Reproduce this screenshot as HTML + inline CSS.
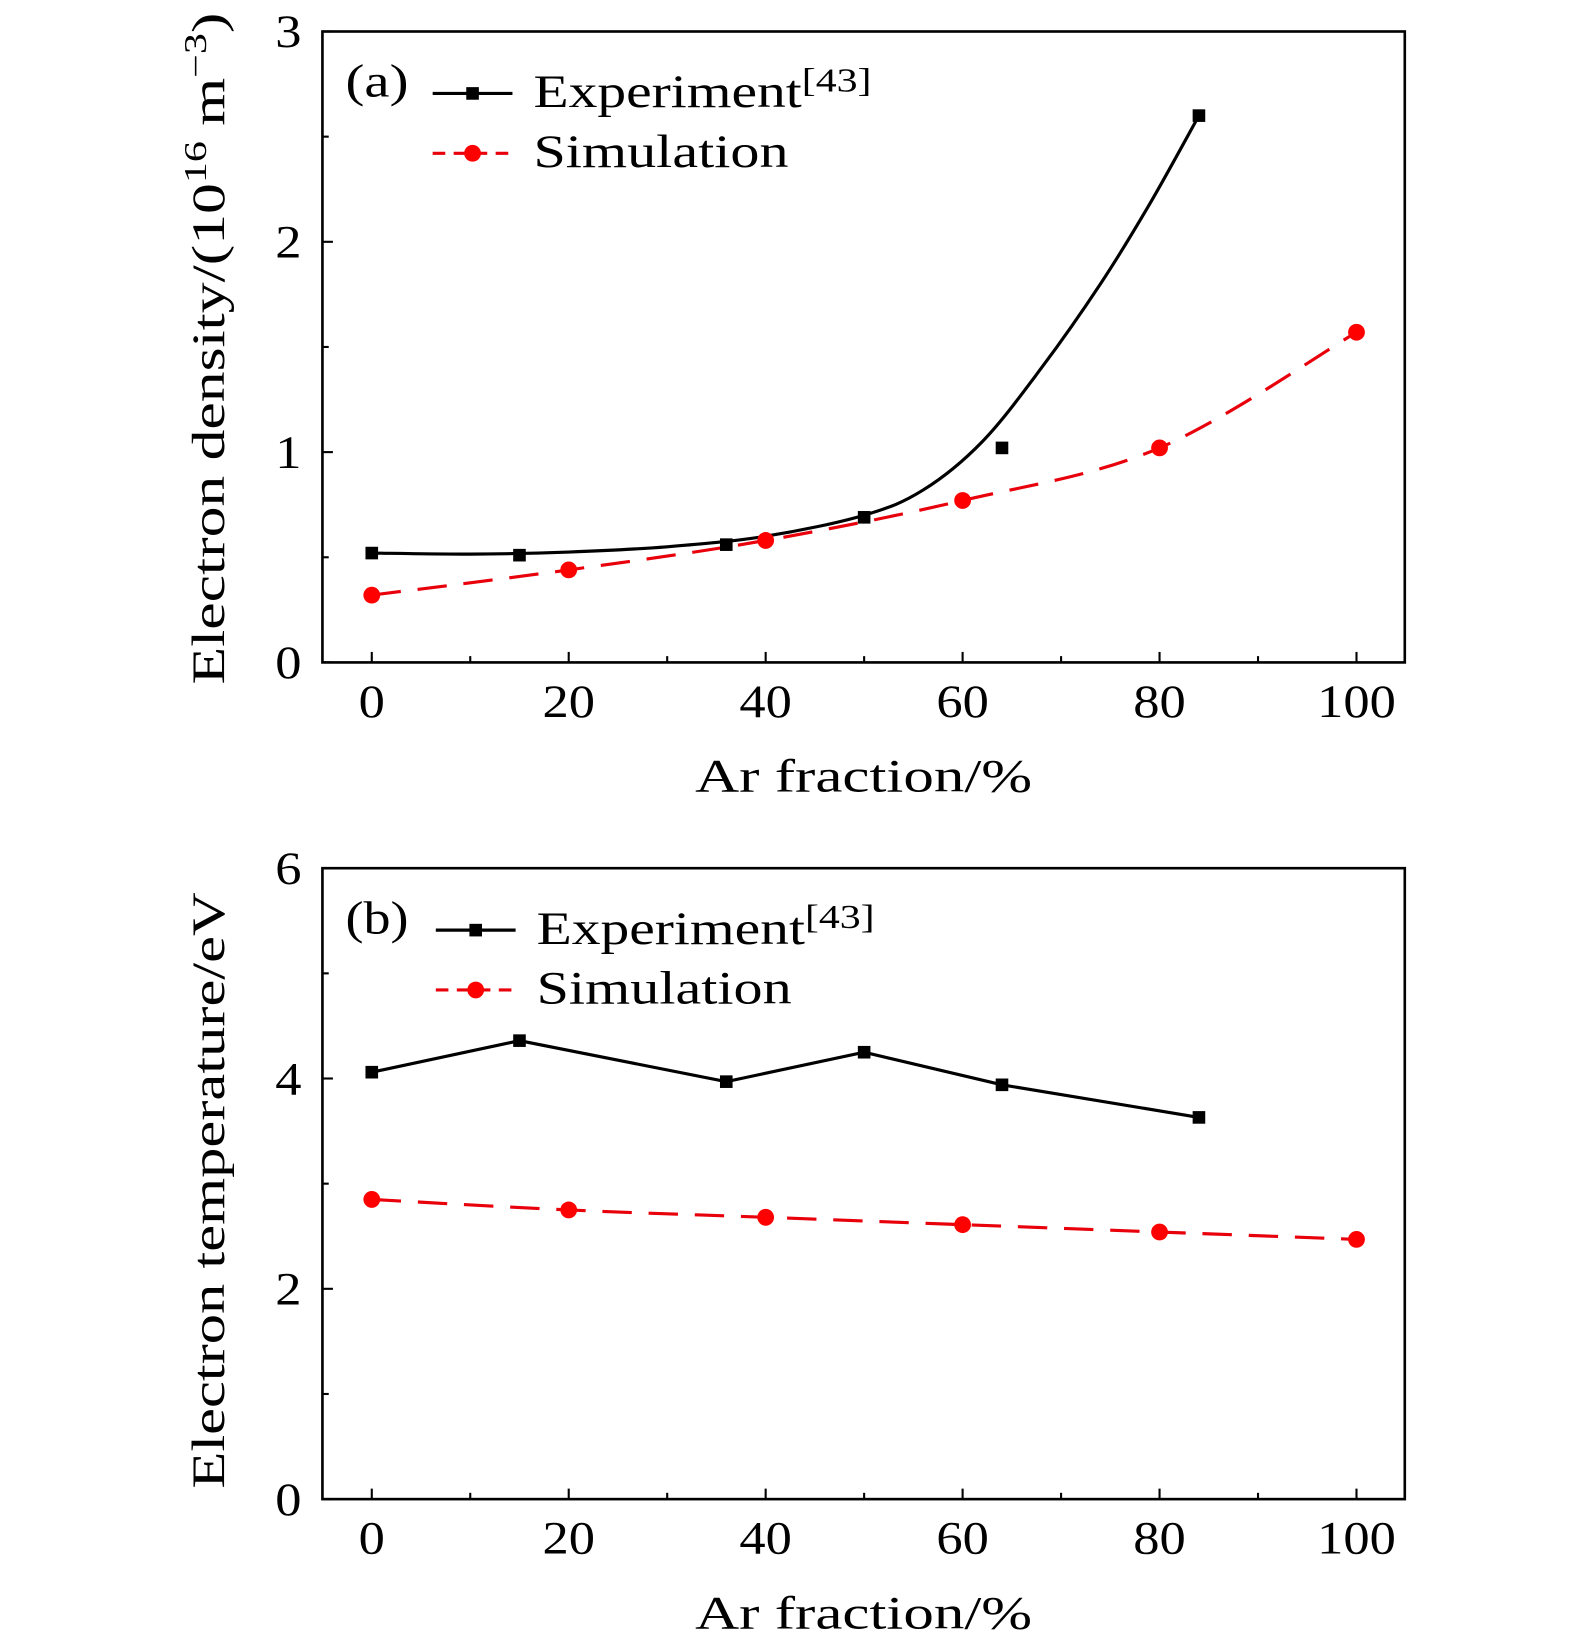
<!DOCTYPE html>
<html><head><meta charset="utf-8"><style>
html,body{margin:0;padding:0;background:#fff;}
svg{display:block;font-family:"Liberation Serif",serif;}
</style></head><body>
<svg id="fig" width="1575" height="1644" viewBox="0 0 1500 1566" xmlns="http://www.w3.org/2000/svg">
</svg>
<script>
// Panel (a) data
const expX = [0, 15, 36, 50, 64, 84];
const expDensity = [0.52, 0.51, 0.56, 0.69, 1.02, 2.6];
const fitX = [0, 10, 20, 30, 40, 50, 56, 62, 68, 74, 79, 84];
const fitDensity = [0.52, 0.515, 0.525, 0.55, 0.60, 0.70, 0.82, 1.05, 1.40, 1.80, 2.18, 2.6];
const simX = [0, 20, 40, 60, 80, 100];
const simDensity = [0.32, 0.44, 0.58, 0.77, 1.02, 1.57];
// Panel (b) data
const expTemp = [4.06, 4.36, 3.97, 4.25, 3.94, 3.63];
const simTemp = [2.85, 2.75, 2.68, 2.61, 2.54, 2.47];
const xTicks = [0, 20, 40, 60, 80, 100];
const yTicksA = [0, 1, 2, 3];
const yTicksB = [0, 2, 4, 6];

const NS = "http://www.w3.org/2000/svg";
const svg = document.getElementById("fig");
function el(tag, attrs, parent, text) {
  const e = document.createElementNS(NS, tag);
  for (const k in attrs) e.setAttribute(k, attrs[k]);
  if (text !== undefined) e.textContent = text;
  (parent || svg).appendChild(e);
  return e;
}
function smooth(pts) {
  let d = "M" + pts[0][0] + "," + pts[0][1];
  for (let i = 0; i < pts.length - 1; i++) {
    const p0 = pts[i - 1] || pts[i], p1 = pts[i], p2 = pts[i + 1], p3 = pts[i + 2] || p2;
    const c1 = [p1[0] + (p2[0] - p0[0]) / 6, p1[1] + (p2[1] - p0[1]) / 6];
    const c2 = [p2[0] - (p3[0] - p1[0]) / 6, p2[1] - (p3[1] - p1[1]) / 6];
    d += " C" + c1 + " " + c2 + " " + p2;
  }
  return d;
}
const LA = "spacingAndGlyphs";

function panel(cfg) {
  const L = 307, R = 1338, T = cfg.top, B = cfg.top + 601;
  const sx = v => 354 + (v / 100) * (1292 - 354);
  const sy = v => B - (v / cfg.ymax) * (B - T);
  const g = el("g", {});
  
  
  const frame = el("rect", {x: L, y: T, width: R - L, height: B - T, fill: "none", stroke: "#000", "stroke-width": 2.5}, g);
  
  
  for (let v = 0; v <= 100; v += 10) {
    const major = v % 20 === 0;
    el("line", {x1: sx(v), x2: sx(v), y1: B, y2: B - (major ? 10 : 6), stroke: "#000", "stroke-width": 2}, g);
  }
  xTicks.forEach(v => {
    const s = String(v);
    const t = el("text", {x: sx(v), y: B + 52, "font-size": 44, "text-anchor": "middle", textLength: 25 * s.length, lengthAdjust: LA}, g, s);
    
    
  });
  const step = cfg.yticks[1] - cfg.yticks[0];
  for (let v = 0; v <= cfg.ymax + 1e-9; v += step / 2) {
    const major = Math.abs(v / step - Math.round(v / step)) < 1e-6;
    el("line", {x1: L, x2: L + (major ? 10 : 6), y1: sy(v), y2: sy(v), stroke: "#000", "stroke-width": 2}, g);
  }
  cfg.yticks.forEach(v => {
    const t = el("text", {x: 287, y: sy(v) + 15, "font-size": 44, "text-anchor": "end", textLength: 25, lengthAdjust: LA}, g, String(v));
    
    
  });
  const xt = el("text", {x: 662, y: B + 123, "font-size": 44, textLength: 321, lengthAdjust: LA}, g, "Ar fraction/%");
  
  
  const yt = el("text", {x: 0, y: 0, "font-size": 44, transform: "translate(213," + cfg.ytStart + ") rotate(-90)", textLength: cfg.ytLen, lengthAdjust: LA}, g);
  
  
  if (cfg.sup) {
    yt.appendChild(document.createTextNode("Electron density/(10"));
    el("tspan", {"font-size": 30, dy: -17}, yt, "16");
    el("tspan", {dy: 17}, yt, " m");
    el("tspan", {"font-size": 30, dy: -17}, yt, "\u22123");
    el("tspan", {dy: 17}, yt, ")");
  } else {
    yt.textContent = "Electron temperature/eV";
  }
  const simPts = simX.map((x, i) => [sx(x), sy(cfg.sim[i])]);
  const simLine = el("path", {d: smooth(simPts), fill: "none", stroke: "#e8000b", "stroke-width": 3, "stroke-dasharray": "28,16"}, g);
  
  
  let expD;
  if (cfg.fit) expD = smooth(fitX.map((x, i) => [sx(x), sy(cfg.fit[i])]));
  else expD = "M" + expX.map((x, i) => [sx(x), sy(cfg.exp[i])]).join(" L");
  const expLine = el("path", {d: expD, fill: "none", stroke: "#000", "stroke-width": 3}, g);
  
  
  simPts.forEach(p => {
    const c = el("circle", {cx: p[0], cy: p[1], r: 8, fill: "#f00"}, g);
    
    
  });
  expX.forEach((x, i) => {
    const r = el("rect", {x: sx(x) - 6, y: sy(cfg.exp[i]) - 6, width: 12, height: 12, fill: "#000"}, g);
    
    
  });
  const lg = el("g", {}, g);
  
  
  const pl = el("text", {x: 329, y: T + 62, "font-size": 44, textLength: 60, lengthAdjust: LA}, lg, cfg.label);
  
  
  const lx = cfg.legX;
  el("line", {x1: lx, x2: lx + 76, y1: T + 59, y2: T + 59, stroke: "#000", "stroke-width": 3}, lg);
  el("rect", {x: lx + 32, y: T + 53, width: 12, height: 12, fill: "#000"}, lg);
  const e1 = el("text", {x: lx + 96, y: T + 72, "font-size": 44, textLength: 322, lengthAdjust: LA}, lg, "Experiment");
  
  
  el("tspan", {"font-size": 32, dy: -15}, e1, "[43]");
  el("line", {x1: lx, x2: lx + 76, y1: T + 116, y2: T + 116, stroke: "#e8000b", "stroke-width": 3, "stroke-dasharray": "12,8"}, lg);
  el("circle", {cx: lx + 38, cy: T + 116, r: 8, fill: "#f00"}, lg);
  const e2 = el("text", {x: lx + 96, y: T + 129, "font-size": 44, textLength: 243, lengthAdjust: LA}, lg, "Simulation");
  
  
}

panel({name: "panel-a-electron-density", top: 30, ymax: 3, yticks: yTicksA, exp: expDensity, fit: fitDensity, sim: simDensity, sup: true, label: "(a)", legX: 412, ytStart: 652, ytLen: 640});
panel({name: "panel-b-electron-temperature", top: 827, ymax: 6, yticks: yTicksB, exp: expTemp, fit: null, sim: simTemp, sup: false, label: "(b)", legX: 415, ytStart: 1418, ytLen: 568});
</script>
</body></html>
